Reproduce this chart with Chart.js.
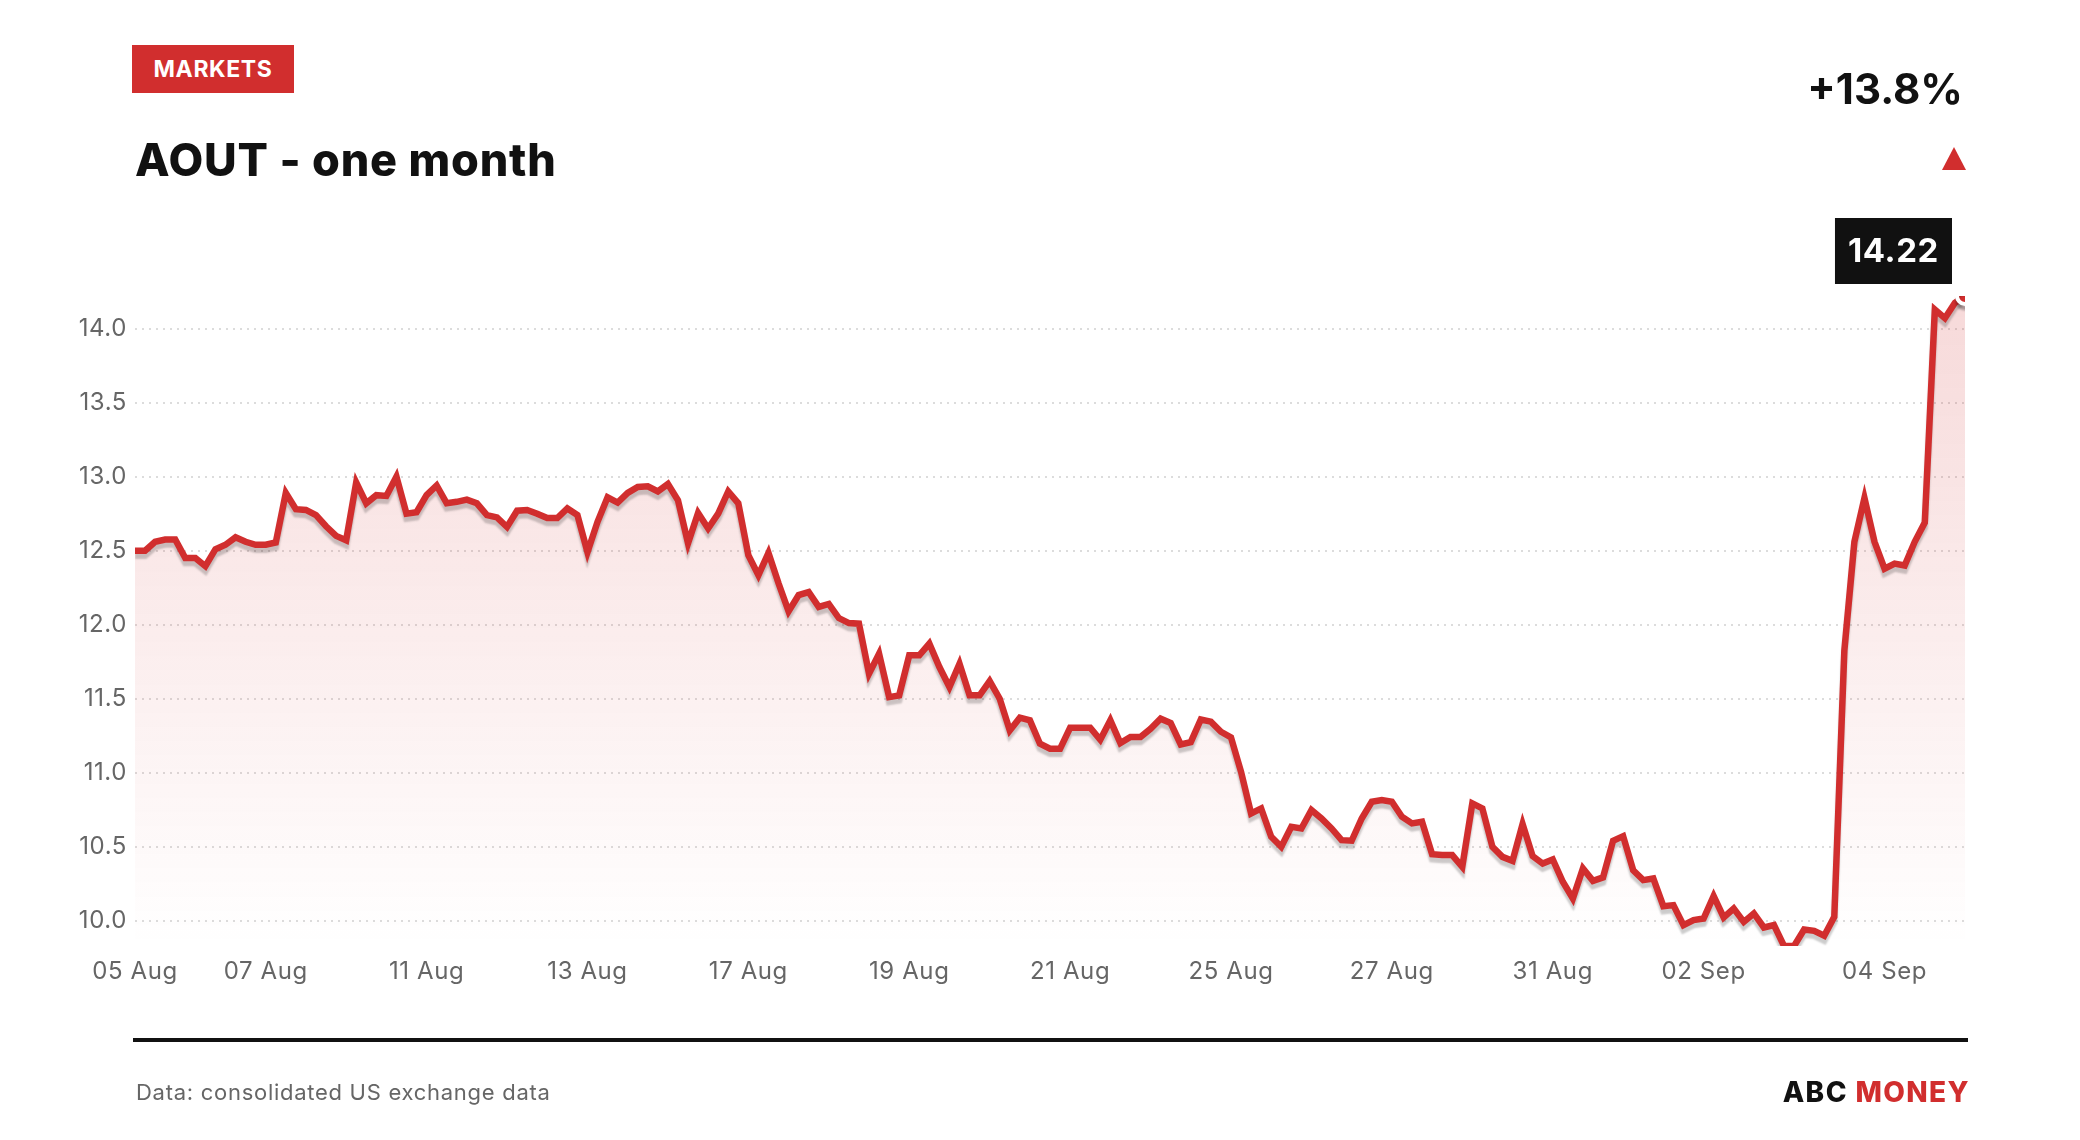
<!DOCTYPE html>
<html>
<head>
<meta charset="utf-8">
<script src="https://cdn.jsdelivr.net/npm/chart.js@4.4.1/dist/chart.umd.min.js"></script>
<style>
  html, body { margin: 0; padding: 0; background: #fff; }
  #wrap { position: relative; width: 2080px; height: 1140px; overflow: hidden; font-family: Inter, "Noto Sans", sans-serif; }
  #chart { position: absolute; left: 0; top: 0; }
  .badge { position: absolute; left: 132px; top: 45px; width: 162px; height: 48px; background: #d12e2e; color: #fff;
           font-weight: 700; font-size: 23px; line-height: 48px; text-align: center; letter-spacing: 0.6px; }
  .title { position: absolute; left: 135px; top: 137px; font-size: 45px; line-height: 45px; font-weight: 800; color: #111;
           white-space: nowrap; letter-spacing: 0.8px; }
  .change { position: absolute; right: 117px; top: 68px; font-size: 42px; line-height: 42px; font-weight: 700; color: #111; }
  .arrow { position: absolute; left: 1942px; top: 147px; width: 0; height: 0;
           border-left: 12px solid transparent; border-right: 12px solid transparent; border-bottom: 23px solid #d12e2e; }
  .rule { position: absolute; left: 133px; top: 1038px; width: 1835px; height: 4px; background: #111; }
  .source { position: absolute; left: 136px; top: 1081px; font-size: 22px; line-height: 22px; color: #666; letter-spacing: 0.72px; }
  .brand { position: absolute; right: 110px; top: 1078px; font-size: 28px; line-height: 28px; font-weight: 800; color: #111;
           letter-spacing: 1.4px; }
  .brand span { color: #d12e2e; }
</style>
</head>
<body>
<div id="wrap">
  <canvas id="chart" width="2080" height="1140"></canvas>
  <div class="badge">MARKETS</div>
  <div class="title">AOUT - one month</div>
  <div class="change">+13.8%</div>
  <div class="arrow"></div>
  <div class="rule"></div>
  <div class="source">Data: consolidated US exchange data</div>
  <div class="brand">ABC <span>MONEY</span></div>
</div>
<script>
// price per interval, 05 Aug -> 04 Sep
var prices = [
  12.50, 12.50, 12.56, 12.575, 12.575, 12.45, 12.45, 12.395, 12.51, 12.54,
  12.59, 12.56, 12.54, 12.54, 12.555, 12.89, 12.78, 12.775, 12.74, 12.665,
  12.60, 12.57, 12.96, 12.82, 12.875, 12.87, 13.00, 12.75, 12.76, 12.875,
  12.94, 12.82, 12.83, 12.845, 12.82, 12.74, 12.725, 12.66, 12.77, 12.775,
  12.75, 12.72, 12.72, 12.785, 12.74, 12.49, 12.695, 12.86, 12.825, 12.89,
  12.93, 12.935, 12.90, 12.95, 12.84, 12.55, 12.755, 12.65, 12.75, 12.90,
  12.82, 12.47, 12.335, 12.485, 12.28, 12.09, 12.20, 12.22, 12.12, 12.14,
  12.045, 12.011, 12.007, 11.669, 11.804, 11.511, 11.523, 11.793, 11.793, 11.872,
  11.714, 11.579, 11.736, 11.523, 11.523, 11.619, 11.50, 11.286, 11.372, 11.354,
  11.196, 11.162, 11.162, 11.304, 11.304, 11.304, 11.223, 11.354, 11.20, 11.241,
  11.241, 11.297, 11.365, 11.336, 11.191, 11.207, 11.36, 11.345, 11.277, 11.239,
  11.007, 10.725, 10.759, 10.568, 10.50, 10.635, 10.624, 10.748, 10.691, 10.624,
  10.545, 10.541, 10.691, 10.804, 10.815, 10.804, 10.703, 10.658, 10.669, 10.45,
  10.444, 10.444, 10.365, 10.793, 10.759, 10.50, 10.432, 10.405, 10.653, 10.437,
  10.387, 10.414, 10.264, 10.151, 10.354, 10.27, 10.293, 10.541, 10.572, 10.342,
  10.275, 10.286, 10.099, 10.106, 9.971, 10.005, 10.016, 10.167, 10.023, 10.083,
  9.993, 10.05, 9.955, 9.971, 9.83, 9.83, 9.941, 9.932, 9.899, 10.027,
  11.824, 12.56, 12.855, 12.56, 12.378, 12.413, 12.40, 12.56, 12.69, 14.128,
  14.07, 14.174, 14.22
];

// x axis: which interval each date label sits on
var tickIdx = [0, 13, 29, 45, 61, 77, 93, 109, 125, 141, 156, 174];
var tickLabels = ['05 Aug', '07 Aug', '11 Aug', '13 Aug', '17 Aug', '19 Aug',
                  '21 Aug', '25 Aug', '27 Aug', '31 Aug', '02 Sep', '04 Sep'];
var yTicks = [10.0, 10.5, 11.0, 11.5, 12.0, 12.5, 13.0, 13.5, 14.0];

var RED = '#d12e2e';

Chart.defaults.font.family = 'Inter, "Noto Sans", sans-serif';

// slightly looser tick text, like the original
var spacing = {
  id: 'spacing',
  beforeDraw: function (chart) {
    if ('letterSpacing' in chart.ctx) chart.ctx.letterSpacing = '0.6px';
  }
};

// soft grey shadow under the line
var lineShadow = {
  id: 'lineShadow',
  beforeDatasetDraw: function (chart) {
    var c = chart.ctx;
    c.save();
    c.shadowColor = 'rgba(0,0,0,0.2)';
    c.shadowBlur = 2;
    c.shadowOffsetY = 5;
  },
  afterDatasetDraw: function (chart) {
    chart.ctx.restore();
  }
};

// black label with the last price
var lastLabel = {
  id: 'lastLabel',
  afterDraw: function (chart) {
    var meta = chart.getDatasetMeta(0);
    var pt = meta.data[meta.data.length - 1];
    var c = chart.ctx;
    var txt = prices[prices.length - 1].toFixed(2);
    c.save();
    c.font = 'bold 33px Inter, "Noto Sans", sans-serif';
    var w = c.measureText(txt).width + 26, h = 66;
    var x = pt.x - 13 - w, y = pt.y - 12 - h;
    c.fillStyle = '#111';
    c.fillRect(x, y, w, h);
    c.fillStyle = '#fff';
    c.textAlign = 'center';
    c.textBaseline = 'middle';
    c.fillText(txt, x + w / 2, y + h / 2 + 1);
    c.restore();
  }
};

var ctx = document.getElementById('chart').getContext('2d');
var n = prices.length;

var chart = new Chart(ctx, {
  type: 'line',
  data: {
    datasets: [{
      data: prices.map(function (v, i) { return { x: i, y: v }; }),
      borderColor: RED,
      borderWidth: 6.5,
      tension: 0,
      clip: 0,
      fill: 'start',
      backgroundColor: function (context) {
        var area = context.chart.chartArea;
        if (!area) return 'rgba(209,46,46,0.1)';
        var g = context.chart.ctx.createLinearGradient(0, area.top, 0, area.bottom);
        g.addColorStop(0, 'rgba(209,46,46,0.18)');
        g.addColorStop(1, 'rgba(209,46,46,0.0)');
        return g;
      },
      pointRadius: function (c) { return c.dataIndex === n - 1 ? 8 : 0; },
      pointBackgroundColor: RED,
      pointBorderColor: '#fff',
      pointBorderWidth: 4
    }]
  },
  options: {
    responsive: false,
    animation: false,
    devicePixelRatio: 1,
    events: [],
    layout: { padding: { left: 0, top: 296, right: 115, bottom: 134 } },
    plugins: { legend: { display: false }, tooltip: { enabled: false } },
    scales: {
      x: {
        type: 'linear',
        min: 0,
        max: n - 1,
        afterBuildTicks: function (scale) {
          scale.ticks = tickIdx.map(function (v) { return { value: v }; });
        },
        afterFit: function (scale) { scale.height = 60; },
        grid: { display: false, drawTicks: false },
        border: { display: false },
        ticks: {
          autoSkip: false,
          maxRotation: 0,
          padding: 11,
          color: '#666',
          font: { size: 24 },
          callback: function (v, i) { return tickLabels[i]; }
        }
      },
      y: {
        min: Math.min.apply(null, prices),
        max: Math.max.apply(null, prices),
        afterBuildTicks: function (scale) {
          scale.ticks = yTicks.map(function (v) { return { value: v }; });
        },
        afterFit: function (scale) { scale.width = 135; },
        grid: { color: '#dcdcdc', lineWidth: 2, drawTicks: false },
        border: { display: false, dash: [2, 5] },
        ticks: {
          padding: 8,
          color: '#666',
          font: { size: 24 },
          callback: function (v) { return v.toFixed(1); }
        }
      }
    }
  },
  plugins: [spacing, lineShadow, lastLabel]
});
</script>
</body>
</html>
